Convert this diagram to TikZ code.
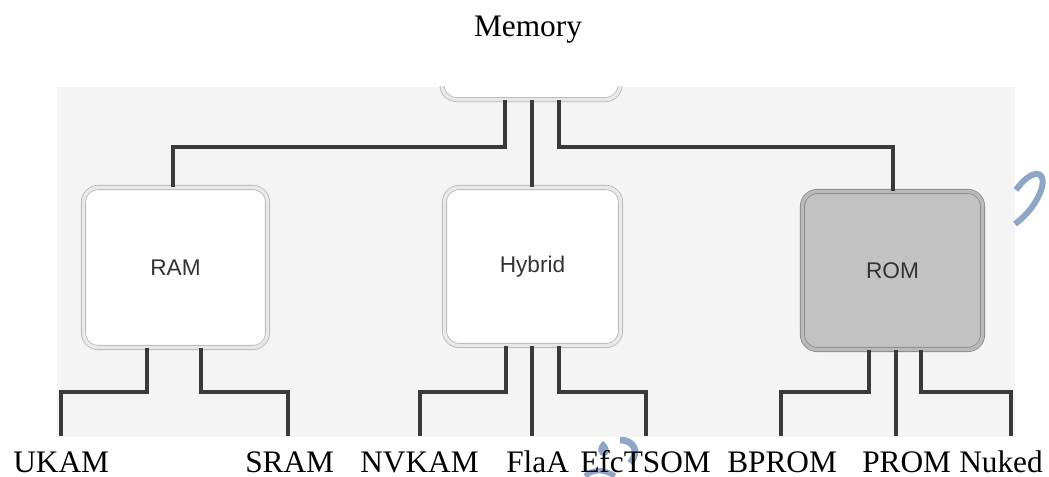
\documentclass[tikz,border=0pt]{standalone}
\usepackage{fontspec}
\setmainfont{Liberation Serif}
\newfontfamily\boxfont{Liberation Sans}
\definecolor{linegray}{HTML}{3A3A3A}
\definecolor{bggray}{HTML}{F4F4F4}
\definecolor{wmblue}{HTML}{8EA5C6}
\definecolor{romfill}{HTML}{C2C2C2}
\definecolor{romedge}{HTML}{8C8C8C}
\begin{document}
\begin{tikzpicture}[x=0.75pt,y=-0.75pt,
  conn/.style={draw=linegray,line width=2.3pt},
  catbox/.style={rounded corners=11pt,draw=gray!55,double=gray!18,double distance=2.6pt,
     fill=white,line width=0.6pt,font=\boxfont\fontsize{17}{20}\selectfont,text=black!80},
  rombox/.style={catbox,draw=romedge,double=gray!55,fill=romfill},
  lbl/.style={font=\fontsize{23.5}{27}\selectfont,anchor=base west,inner sep=0pt}]
\useasboundingbox (0,0) rectangle (1049,477);
% background panel
\fill[bggray] (57,87) rectangle (1015,437);
% top (root) box, cut by the panel edge
\begin{scope}
\clip (57,87) rectangle (1015,437);
\node[catbox,minimum width=178*0.75pt,minimum height=60*0.75pt,anchor=south] (root) at (531,100) {};
\end{scope}
% title
\node[lbl,anchor=base] (title) at (528,37) {Memory};
% second level boxes
\node[catbox,minimum width=184*0.75pt,minimum height=160*0.75pt] (ram) at (175.5,267.5) {RAM};
\node[catbox,minimum width=176*0.75pt,minimum height=158*0.75pt] (hyb) at (532.5,266.5) {Hybrid};
\node[rombox,minimum width=180*0.75pt,minimum height=158*0.75pt] (rom) at (892.5,270.5) {ROM};
% connectors root -> level 2
\draw[conn] (root.south -| 505,0) |- (173,147) -- (ram.north -| 173,0);
\draw[conn] (root.south -| 532,0) -- (hyb.north -| 532,0);
\draw[conn] (root.south -| 559,0) |- (893,147) -- (rom.north -| 893,0);
% leaf end coordinates
\coordinate (e1) at (61,436);
\coordinate (e2) at (288,436);
\coordinate (e3) at (420,436);
\coordinate (e4) at (532,436);
\coordinate (e5) at (646,436);
\coordinate (e6) at (781,436);
\coordinate (e7) at (896,436);
\coordinate (e8) at (1011,436);
% connectors level 2 -> leaves
\draw[conn] (ram.south -| 147,0) |- (e1 |- 0,392) -- (e1);
\draw[conn] (ram.south -| 201,0) |- (e2 |- 0,392) -- (e2);
\draw[conn] (hyb.south -| 506,0) |- (e3 |- 0,392) -- (e3);
\draw[conn] (hyb.south -| 532,0) -- (e4);
\draw[conn] (hyb.south -| 559,0) |- (e5 |- 0,392) -- (e5);
\draw[conn] (rom.south -| 869,0) |- (e6 |- 0,392) -- (e6);
\draw[conn] (rom.south -| 896,0) -- (e7);
\draw[conn] (rom.south -| 921,0) |- (e8 |- 0,392) -- (e8);
% watermark marks
\draw[wmblue,line width=4.5pt,line cap=butt] (1016,190) .. controls (1030,170) and (1046,168) .. (1042,187) .. controls (1038,202) and (1026,216) .. (1015,224);
\fill[wmblue] (603,441) .. controls (596,447) and (597,456) .. (604,456) .. controls (610,456) and (611,447) .. (603,441) -- cycle;
\draw[wmblue,line width=5pt] (620,440) .. controls (634,440) and (640,452) .. (630,463);
\draw[wmblue,line width=4pt] (585,476) .. controls (595,468) and (605,470) .. (615,476);
% leaf labels
\node[lbl] (l1) at (13,472) {UKAM};
\node[lbl] (l2) at (245,472) {SRAM};
\node[lbl] (l3) at (360,472) {NVKAM};
\node[lbl] (l4) at (506,472) {FlaA};
\node[lbl] (l5) at (580,472) {EfcTSOM};
\node[lbl] (l6) at (727,472) {BPROM};
\node[lbl] (l7) at (862,472) {PROM};
\node[lbl] (l8) at (959,472) {Nuked};
\end{tikzpicture}
\end{document}
